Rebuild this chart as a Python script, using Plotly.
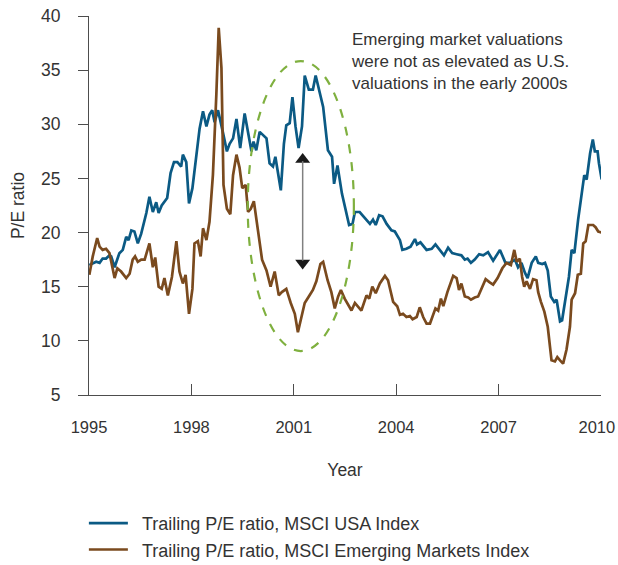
import plotly.graph_objects as go

# Trailing P/E ratios (decimal year, value)
usa_year = [
    1995.01, 1995.21, 1995.31, 1995.40, 1995.50, 1995.60, 1995.65, 1995.75, 1995.89, 1995.99,
    1996.09, 1996.16, 1996.24, 1996.33, 1996.43, 1996.53, 1996.68, 1996.77, 1996.87, 1996.97,
    1997.04, 1997.13, 1997.29, 1997.39, 1997.49, 1997.59, 1997.70, 1997.75, 1997.85, 1997.93,
    1998.03, 1998.14, 1998.24, 1998.34, 1998.44, 1998.53, 1998.61, 1998.68, 1998.78, 1998.92,
    1999.04, 1999.12, 1999.22, 1999.32, 1999.43, 1999.56, 1999.66, 1999.76, 1999.82, 1999.90,
    2000.00, 2000.20, 2000.29, 2000.39, 2000.46, 2000.62, 2000.71, 2000.78, 2000.88, 2000.96,
    2001.05, 2001.14, 2001.24, 2001.32, 2001.44, 2001.56, 2001.64, 2001.76, 2001.86, 2002.00,
    2002.12, 2002.18, 2002.28, 2002.41, 2002.49, 2002.62, 2002.72, 2002.79, 2002.93, 2003.08,
    2003.23, 2003.32, 2003.40, 2003.50, 2003.60, 2003.72, 2003.86, 2003.96, 2004.11, 2004.18,
    2004.30, 2004.42, 2004.55, 2004.61, 2004.71, 2004.89, 2005.04, 2005.15, 2005.28, 2005.40,
    2005.52, 2005.64, 2005.77, 2005.91, 2006.01, 2006.09, 2006.19, 2006.30, 2006.43, 2006.55,
    2006.69, 2006.84, 2007.04, 2007.20, 2007.33, 2007.48, 2007.57, 2007.67, 2007.77, 2007.85,
    2007.97, 2008.09, 2008.16, 2008.28, 2008.36, 2008.44, 2008.53, 2008.63, 2008.70, 2008.80,
    2008.86, 2008.94, 2009.06, 2009.14, 2009.22, 2009.33, 2009.41, 2009.51, 2009.58, 2009.68,
    2009.76, 2009.82, 2009.90, 2009.94, 2010.02,
]
usa_pe = [
    17.0, 17.3, 17.2, 17.6, 17.6, 17.9, 17.8, 16.8, 18.1, 18.4,
    19.6, 19.3, 20.2, 20.1, 19.0, 19.9, 21.8, 23.3, 21.9, 22.8,
    21.8, 22.5, 23.2, 25.5, 26.5, 26.5, 26.1, 27.2, 26.5, 22.7,
    24.1, 27.2, 29.6, 31.2, 29.8, 30.9, 31.3, 30.2, 31.3, 29.3,
    27.5, 28.2, 28.7, 30.5, 27.8, 31.0, 29.3, 27.5, 28.4, 27.6,
    29.3, 28.7, 26.4, 26.1, 27.0, 23.9, 28.2, 29.9, 30.1, 32.5,
    29.8, 27.8, 29.8, 34.5, 33.2, 33.2, 34.5, 32.8, 31.6, 27.6,
    27.0, 24.5, 26.2, 23.6, 22.4, 20.7, 20.8, 21.9, 21.9, 21.3,
    20.8, 21.2, 20.7, 21.6, 21.5, 20.8, 20.2, 20.1, 19.3, 18.4,
    18.5, 18.7, 19.4, 18.9, 19.1, 18.4, 18.5, 18.9, 18.4, 17.9,
    18.6, 18.1, 18.0, 17.9, 17.5, 17.6, 17.2, 17.5, 18.0, 17.9,
    18.2, 17.4, 18.4, 17.2, 17.2, 17.5, 16.8, 17.2, 16.3, 15.8,
    17.2, 17.8, 17.2, 17.1, 17.2, 16.5, 14.1, 13.6, 13.8, 11.8,
    11.9, 13.5, 15.9, 18.4, 18.1, 21.2, 23.0, 25.3, 24.9, 27.3,
    28.6, 27.5, 27.5, 26.4, 24.9,
]

em_year = [
    1995.01, 1995.11, 1995.24, 1995.31, 1995.40, 1995.50, 1995.60, 1995.67, 1995.75, 1995.83,
    1995.94, 1996.09, 1996.19, 1996.28, 1996.35, 1996.43, 1996.53, 1996.63, 1996.77, 1996.87,
    1996.94, 1997.04, 1997.13, 1997.21, 1997.31, 1997.43, 1997.56, 1997.65, 1997.75, 1997.83,
    1997.93, 1998.03, 1998.09, 1998.19, 1998.27, 1998.34, 1998.44, 1998.53, 1998.63, 1998.73,
    1998.80, 1998.88, 1998.94, 1999.04, 1999.14, 1999.22, 1999.32, 1999.41, 1999.49, 1999.59,
    1999.66, 1999.74, 1999.83, 1999.95, 2000.07, 2000.20, 2000.32, 2000.44, 2000.56, 2000.65,
    2000.78, 2000.91, 2001.03, 2001.12, 2001.22, 2001.32, 2001.44, 2001.56, 2001.66, 2001.78,
    2001.86, 2001.99, 2002.10, 2002.20, 2002.30, 2002.38, 2002.49, 2002.64, 2002.69, 2002.79,
    2002.88, 2002.98, 2003.13, 2003.21, 2003.30, 2003.40, 2003.52, 2003.67, 2003.76, 2003.91,
    2004.03, 2004.11, 2004.20, 2004.30, 2004.40, 2004.48, 2004.60, 2004.69, 2004.79, 2004.89,
    2004.99, 2005.05, 2005.15, 2005.23, 2005.31, 2005.38, 2005.50, 2005.67, 2005.77, 2005.84,
    2005.91, 2006.01, 2006.11, 2006.19, 2006.30, 2006.40, 2006.52, 2006.62, 2006.74, 2006.84,
    2006.97, 2007.11, 2007.23, 2007.36, 2007.46, 2007.53, 2007.62, 2007.69, 2007.75, 2007.82,
    2007.92, 2008.01, 2008.11, 2008.16, 2008.24, 2008.34, 2008.44, 2008.50, 2008.55, 2008.65,
    2008.72, 2008.80, 2008.89, 2008.99, 2009.09, 2009.14, 2009.24, 2009.32, 2009.41, 2009.48,
    2009.55, 2009.63, 2009.77, 2009.84, 2009.92, 2010.02,
]
em_pe = [
    16.1, 17.8, 19.5, 18.7, 18.4, 18.5, 18.1, 17.0, 15.8, 16.7,
    16.4, 15.8, 16.2, 17.5, 17.8, 17.3, 17.5, 17.5, 19.0, 16.8,
    17.7, 15.0, 14.8, 15.8, 14.2, 15.9, 19.2, 16.4, 15.3, 16.1,
    12.5, 14.8, 19.0, 19.2, 17.8, 20.4, 19.3, 21.0, 25.3, 32.7,
    38.9, 35.2, 24.4, 22.2, 21.7, 25.3, 27.2, 26.0, 24.1, 24.4,
    21.9, 22.2, 22.9, 20.2, 17.5, 16.5, 15.0, 16.4, 14.2, 14.5,
    14.8, 13.5, 12.5, 10.8, 12.2, 13.5, 14.1, 14.7, 15.5, 17.1,
    17.3, 15.6, 14.5, 13.0, 14.1, 14.7, 13.9, 13.1, 12.8, 13.5,
    13.2, 12.8, 14.2, 13.9, 15.0, 14.4, 15.3, 16.0, 15.6, 13.6,
    13.2, 12.4, 12.5, 12.2, 12.3, 12.0, 12.2, 13.1, 12.2, 11.6,
    11.6, 12.2, 13.0, 12.8, 13.9, 13.2, 14.5, 16.0, 15.8, 14.7,
    15.3, 14.1, 14.0, 13.8, 14.0, 14.1, 15.0, 15.7, 15.4, 15.2,
    15.8, 16.7, 17.2, 17.0, 18.4, 17.3, 17.6, 15.9, 15.0, 15.5,
    14.8, 15.7, 15.6, 14.5, 13.6, 12.7, 11.3, 9.2, 8.2, 8.1,
    8.5, 8.2, 7.9, 9.2, 11.3, 13.8, 14.4, 16.1, 16.2, 19.0,
    19.2, 20.7, 20.7, 20.5, 20.1, 20.0,
]

x_ticks = [1995, 1998, 2001, 2004, 2007, 2010]
x_labels = ["1995", "1998", "2001", "2004", "2007", "2010\u2002"]  # last one nudged off the edge
y_ticks = [5, 10, 15, 20, 25, 30, 35, 40]

FONT = "Liberation Sans, Arial, sans-serif"
TEXT = "#333333"
AXIS = "#4d4d4d"
PAD = "\u2002"  # small gap between legend line and text

fig = go.Figure()
fig.add_trace(go.Scatter(x=usa_year, y=usa_pe, mode="lines", name=PAD + "Trailing P/E ratio, MSCI USA Index",
                         line=dict(color="#0b5a84", width=2.7), cliponaxis=False))
fig.add_trace(go.Scatter(x=em_year, y=em_pe, mode="lines",
                         name=PAD + "Trailing P/E ratio, MSCI Emerging Markets Index",
                         line=dict(color="#7a4a1e", width=2.7), cliponaxis=False))

# dashed ellipse round the early-2000s gap
fig.add_shape(type="circle", xref="x", yref="y", x0=1999.65, x1=2002.76, y0=9.06, y1=35.84,
              line=dict(color="#7fb03f", width=2.2, dash="dash"), layer="above")

# double arrow between the two series
fig.add_shape(type="line", xref="x", yref="y", x0=2001.26, x1=2001.26, y0=17.4, y1=26.6,
              line=dict(color="#808080", width=1.5))
fig.add_trace(go.Scatter(x=[2001.26, 2001.26], y=[26.75, 17.2], mode="markers", showlegend=False,
                         hoverinfo="skip",
                         marker=dict(symbol=["triangle-up", "triangle-down"], size=13, color="#1a1a1a",
                                     line=dict(width=0))))

fig.add_annotation(x=0.508, y=0.968, xref="paper", yref="paper", xanchor="left", yanchor="top",
                   align="left", showarrow=False,
                   text="Emerging market valuations<br>were not as elevated as U.S.<br>valuations in the early 2000s",
                   font=dict(family=FONT, size=17, color=TEXT))

fig.update_xaxes(range=[1995, 2010], tickvals=x_ticks, ticktext=x_labels,
                 showline=True, linecolor=AXIS, linewidth=1, showgrid=False, zeroline=False,
                 ticks="inside", ticklen=11, tickcolor=AXIS, ticklabelstandoff=17,
                 ticklabeloverflow="allow", automargin=False,
                 tickfont=dict(family=FONT, size=16.5, color=TEXT),
                 title=dict(text="Year", font=dict(family=FONT, size=17.5, color=TEXT), standoff=28))
fig.update_yaxes(range=[5, 40], tickvals=y_ticks, showline=True, linecolor=AXIS, linewidth=1,
                 showgrid=False, zeroline=False, ticks="outside", ticklen=10, tickcolor=AXIS,
                 ticklabelstandoff=14, ticklabeloverflow="allow", automargin=False,
                 tickfont=dict(family=FONT, size=17.5, color=TEXT),
                 title=dict(text="P/E ratio", font=dict(family=FONT, size=17.5, color=TEXT), standoff=11))

fig.update_layout(
    width=618, height=565,
    margin=dict(l=89, r=17, t=16, b=170, autoexpand=False),
    plot_bgcolor="white", paper_bgcolor="white",
    font=dict(family=FONT, color=TEXT),
    legend=dict(x=-0.010, xanchor="left", y=-0.290, yanchor="top", orientation="v",
                font=dict(family=FONT, size=18, color=TEXT), itemwidth=39, tracegroupgap=0),
)

# drop the default page margin so the figure sits at the window's corner
fig.write_html("out.html", config={"displayModeBar": False},
               post_script="document.body.style.margin = '0';")
